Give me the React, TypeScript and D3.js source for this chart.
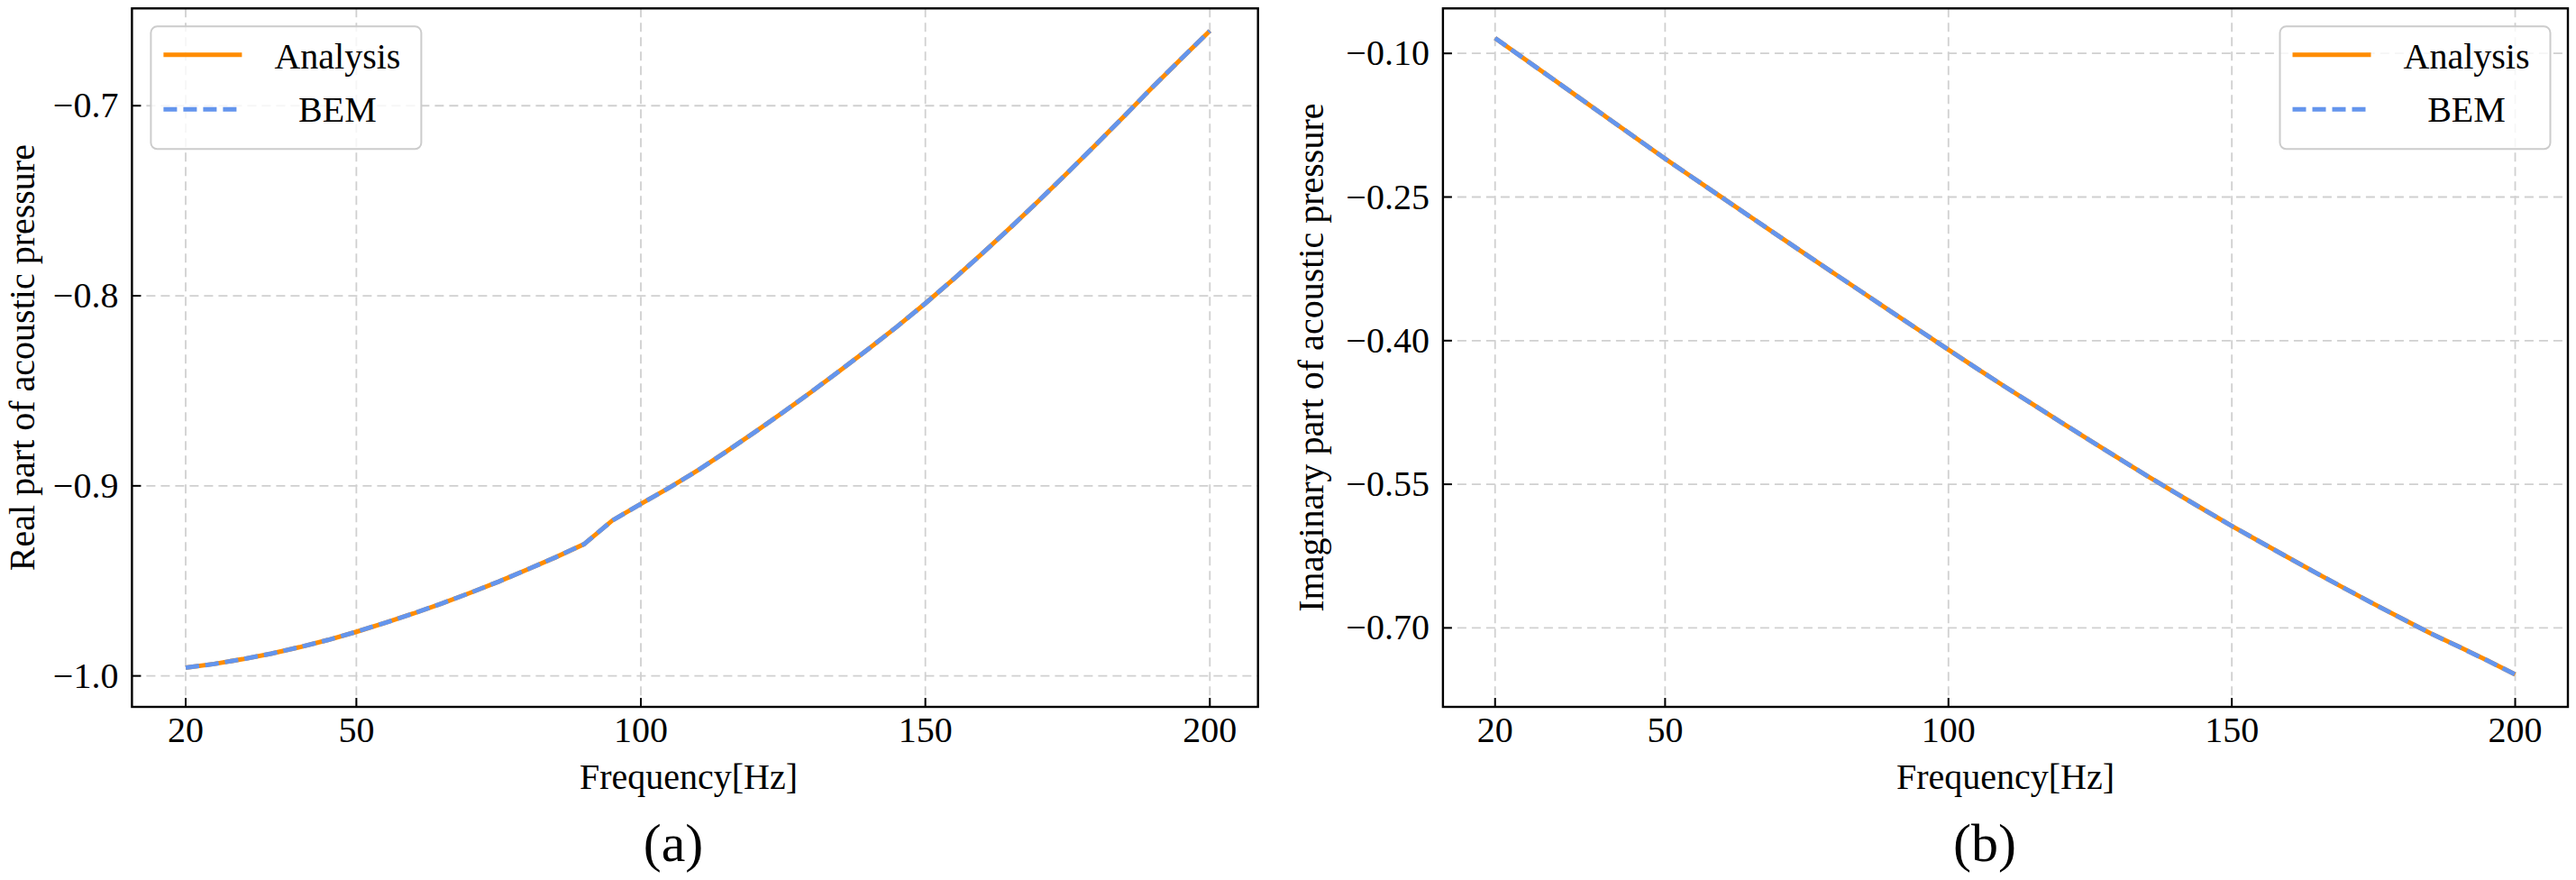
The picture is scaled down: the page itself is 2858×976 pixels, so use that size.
import React from "react";
import * as d3 from "d3";

// Frequency samples (Hz) shared by both panels.
const frequencies = [
  20, 25, 30, 35, 40, 45, 50, 55, 60, 65, 70, 75, 80, 85, 90, 95, 100, 105, 110,
  115, 120, 125, 130, 135, 140, 145, 150, 155, 160, 165, 170, 175, 180, 185, 190,
  195, 200,
];

// (a) real part of acoustic pressure
const realAnalysis = [
  -0.9957, -0.9937, -0.9912, -0.9883, -0.9849, -0.9811, -0.9768, -0.9721, -0.9672,
  -0.9619, -0.9563, -0.9504, -0.9441, -0.9376, -0.9307, -0.9182, -0.9095, -0.901,
  -0.8919, -0.882, -0.8718, -0.8613, -0.8505, -0.8393, -0.828, -0.8163, -0.804,
  -0.7911, -0.7778, -0.764, -0.7498, -0.7352, -0.7204, -0.7053, -0.69, -0.6752,
  -0.6606,
];
const realBem = [
  -0.9957, -0.9937, -0.9912, -0.9883, -0.9849, -0.9811, -0.9768, -0.9721, -0.9672,
  -0.9619, -0.9563, -0.9504, -0.9441, -0.9376, -0.9307, -0.9182, -0.9095, -0.901,
  -0.8919, -0.882, -0.8718, -0.8613, -0.8505, -0.8393, -0.828, -0.8163, -0.804,
  -0.7911, -0.7778, -0.764, -0.7498, -0.7352, -0.7204, -0.7053, -0.69, -0.6752,
  -0.6606,
];

// (b) imaginary part of acoustic pressure
const imagAnalysis = [
  -0.084, -0.105, -0.126, -0.147, -0.168, -0.189, -0.21, -0.2302, -0.2504, -0.2705,
  -0.2906, -0.3106, -0.3305, -0.3503, -0.3701, -0.3898, -0.4095, -0.429, -0.4482,
  -0.467, -0.4857, -0.5043, -0.5228, -0.541, -0.5588, -0.5763, -0.5935, -0.6102,
  -0.6267, -0.643, -0.659, -0.6748, -0.6903, -0.7055, -0.7195, -0.7338, -0.7486,
];
const imagBem = [
  -0.084, -0.105, -0.126, -0.147, -0.168, -0.189, -0.21, -0.2302, -0.2504, -0.2705,
  -0.2906, -0.3106, -0.3305, -0.3503, -0.3701, -0.3898, -0.4095, -0.429, -0.4482,
  -0.467, -0.4857, -0.5043, -0.5228, -0.541, -0.5588, -0.5763, -0.5935, -0.6102,
  -0.6267, -0.643, -0.659, -0.6748, -0.6903, -0.7055, -0.7195, -0.7338, -0.7486,
];

const xTicks = [20, 50, 100, 150, 200];
const realTicks = [-0.7, -0.8, -0.9, -1.0];
const imagTicks = [-0.1, -0.25, -0.4, -0.55, -0.7];
const seriesNames = ["Analysis", "BEM"];

const FONT = "'Liberation Serif', 'Times New Roman', serif";
const ORANGE = "#ff8c00";
const BLUE = "#6495ed";
const GRID = "#d0d0d0";

function Panel(props) {
  const {
    left, right, top, bottom,
    xDomain, yDomain, yTicks, yFormat,
    analysis, bem,
    yLabel, yLabelX, xLabelX, caption, captionX,
    legendLeft,
  } = props;

  const x = d3.scaleLinear().domain(xDomain).range([left, right]);
  const y = d3.scaleLinear().domain(yDomain).range([bottom, top]);

  const line = d3.line()
    .x((d) => x(d[0]))
    .y((d) => y(d[1]));

  const analysisPts = frequencies.map((f, i) => [f, analysis[i]]);
  const bemPts = frequencies.map((f, i) => [f, bem[i]]);
  const fmt = d3.format(yFormat);

  // legend geometry, relative to the box
  const legTop = top + 20;
  const legW = 300;
  const legH = 136;

  return (
    <g>
      {/* grid */}
      {xTicks.map((t) => (
        <line key={"gx" + t} x1={x(t)} x2={x(t)} y1={top} y2={bottom}
          stroke={GRID} strokeWidth={1.8} strokeDasharray="10,6" />
      ))}
      {yTicks.map((t) => (
        <line key={"gy" + t} x1={left} x2={right} y1={y(t)} y2={y(t)}
          stroke={GRID} strokeWidth={1.8} strokeDasharray="10,6" />
      ))}

      {/* series */}
      <path d={line(analysisPts)} fill="none" stroke={ORANGE} strokeWidth={5} />
      <path d={line(bemPts)} fill="none" stroke={BLUE} strokeWidth={5}
        strokeDasharray="15,7" />

      {/* ticks, pointing inward */}
      {xTicks.map((t) => (
        <g key={"tx" + t}>
          <line x1={x(t)} x2={x(t)} y1={bottom} y2={bottom - 10} stroke="#000" strokeWidth={2} />
          <text x={x(t)} y={823} textAnchor="middle" fontSize={40} fontFamily={FONT}>{t}</text>
        </g>
      ))}
      {yTicks.map((t) => (
        <g key={"ty" + t}>
          <line x1={left} x2={left + 10} y1={y(t)} y2={y(t)} stroke="#000" strokeWidth={2} />
          <text x={left - 15} y={y(t) + 13} textAnchor="end" fontSize={40} fontFamily={FONT}>
            {fmt(t)}
          </text>
        </g>
      ))}

      {/* frame */}
      <rect x={left} y={top} width={right - left} height={bottom - top}
        fill="none" stroke="#000" strokeWidth={2.4} />

      {/* legend */}
      <g transform={`translate(${legendLeft},${legTop})`}>
        <rect x={0} y={0} width={legW} height={legH} rx={7} ry={7}
          fill="#fff" fillOpacity={0.8} stroke="#cccccc" strokeWidth={2} />
        <line x1={14} x2={101} y1={31.5} y2={31.5} stroke={ORANGE} strokeWidth={5} />
        <line x1={14} x2={101} y1={92} y2={92} stroke={BLUE} strokeWidth={5}
          strokeDasharray="15,7" />
        <text x={207} y={47} textAnchor="middle" fontSize={40} fontFamily={FONT}>{seriesNames[0]}</text>
        <text x={207} y={106} textAnchor="middle" fontSize={40} fontFamily={FONT}>{seriesNames[1]}</text>
      </g>

      {/* labels */}
      <text x={xLabelX} y={875} textAnchor="middle" fontSize={40} fontFamily={FONT}>
        Frequency[Hz]
      </text>
      <text transform={`translate(${yLabelX},${(top + bottom) / 2}) rotate(-90)`}
        textAnchor="middle" fontSize={40} fontFamily={FONT}>
        {yLabel}
      </text>
      <text x={captionX} y={955} textAnchor="middle" fontSize={60} fontFamily={FONT}>
        {caption}
      </text>
    </g>
  );
}

export default function App() {
  return (
    <svg width={2858} height={976}
      style={{ position: "absolute", left: 0, top: 0, background: "#fff" }}>
      <rect width={2858} height={976} fill="#fff" />
      <Panel
        left={146.4} right={1395.7} top={9.3} bottom={784}
        xDomain={[10.56, 208.46]} yDomain={[-1.0163, -0.6488]}
        yTicks={realTicks} yFormat=".1f"
        analysis={realAnalysis} bem={realBem}
        yLabel="Real part of acoustic pressure" yLabelX={38}
        xLabelX={764} caption="(a)" captionX={747}
        legendLeft={167.4}
      />
      <Panel
        left={1600.9} right={2849} top={9.3} bottom={784}
        xDomain={[10.8, 209.3]} yDomain={[-0.7825, -0.053]}
        yTicks={imagTicks} yFormat=".2f"
        analysis={imagAnalysis} bem={imagBem}
        yLabel="Imaginary part of acoustic pressure" yLabelX={1468}
        xLabelX={2225} caption="(b)" captionX={2202}
        legendLeft={2529.5}
      />
    </svg>
  );
}
